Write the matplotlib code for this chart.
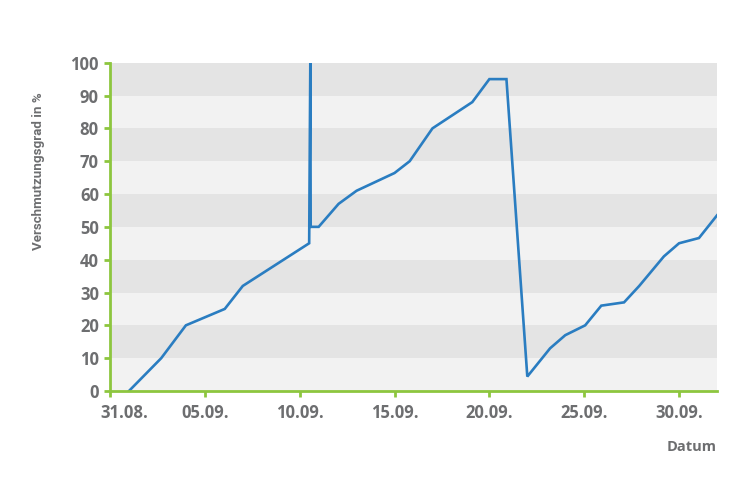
import matplotlib
matplotlib.use("Agg")
import matplotlib.pyplot as plt
import matplotlib.transforms as mtransforms

# Data: x = days after 31.08., y = Verschmutzungsgrad in %
days = [1.0, 2.7, 4.0, 6.05, 7.0, 10.5, 10.56, 10.58, 11.0, 12.05, 13.0, 15.0, 15.8,
        17.0, 19.1, 20.0, 20.9, 22.0, 23.2, 24.0, 25.05, 25.9, 27.1, 27.9, 29.2,
        30.0, 31.05, 32.0]
values = [0, 10, 20, 25, 32, 45, 100, 50, 50, 57, 61, 66.4, 70,
          80, 88, 95, 95, 4.4, 13, 17, 20, 26, 27, 32, 41,
          45, 46.6, 53.5]

tick_days = [0, 5, 10, 15, 20, 25, 30]
tick_labels = ["31.08.", "05.09.", "10.09.", "15.09.", "20.09.", "25.09.", "30.09."]
y_ticks = [0, 10, 20, 30, 40, 50, 60, 70, 80, 90, 100]

green = "#8dc63f"
grey_txt = "#6d6e70"
line_col = "#2a7dc1"

plt.rcParams["font.family"] = ["Open Sans", "DejaVu Sans"]

fig = plt.figure(figsize=(7.33, 5.0), dpi=100)
ax = fig.add_axes([110/733, 1-391/500, (717-110)/733, (391-62.7)/500])

# alternating bands
for i in range(10):
    col = "#f2f2f2" if i % 2 == 0 else "#e4e4e4"
    ax.axhspan(i*10, (i+1)*10, color=col, lw=0, zorder=0)

ax.plot(days, values, color=line_col, lw=1.9, zorder=3, solid_joinstyle="miter")

ax.set_xlim(0, 32)
ax.set_ylim(0, 100)
ax.set_xticks(tick_days)
ax.set_xticklabels(tick_labels)
ax.set_yticks(y_ticks)

for s in ["top", "right"]:
    ax.spines[s].set_visible(False)
for s in ["left", "bottom"]:
    ax.spines[s].set_color(green)
    ax.spines[s].set_linewidth(2)
    ax.spines[s].set_zorder(4)

ax.tick_params(axis="both", colors=green, width=2, length=4, direction="out")
ax.tick_params(axis="x", labelsize=12, labelcolor=grey_txt, pad=5)
ax.tick_params(axis="y", labelsize=12, labelcolor=grey_txt, pad=4)
for lab in ax.get_xticklabels() + ax.get_yticklabels():
    lab.set_fontweight("bold")

# first date label sits shifted right of its tick in the reference
first = ax.get_xticklabels()[0]
first.set_transform(first.get_transform() +
                    mtransforms.ScaledTranslation(14/100, 0, fig.dpi_scale_trans))

fig.text(39/733, 1-171/500, "Verschmutzungsgrad in %", rotation=90, ha="center",
         va="center", fontsize=9.6, fontweight="bold", color=grey_txt,
         family=["Roboto", "DejaVu Sans"])
fig.text(717/733, 1-447/500, "Datum", ha="right", va="center", fontsize=10.5,
         fontweight="bold", color=grey_txt)

fig.savefig("out.png", dpi=100)
